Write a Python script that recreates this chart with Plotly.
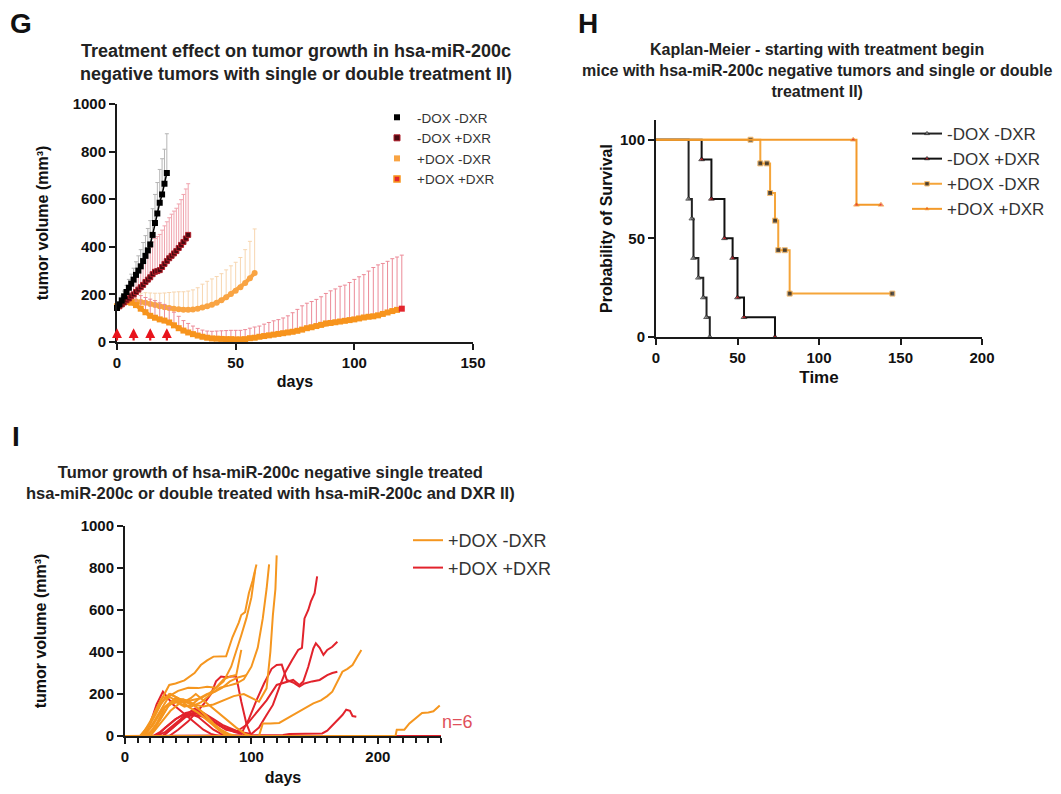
import plotly.graph_objects as go

# The page body has an 8 px margin, so the figure is made 16 px smaller and all
# reference pixel positions are shifted by that margin.
SCREEN_W, SCREEN_H = 1061, 794
OFF = 8
FW, FH = SCREEN_W - 2 * OFF, SCREEN_H - 2 * OFF
FONT = "Liberation Sans, Arial, sans-serif"

# ---------------- Panel G data (mean tumor volume, upper SEM) ----------------
g_labels = ["-DOX -DXR", "-DOX +DXR", "+DOX -DXR", "+DOX +DXR"]

g_ctrl_days = list(range(0, 22))
g_ctrl_vals = [143, 158, 175, 192, 210, 228, 245, 262, 282, 300, 318, 340, 362, 385, 410,
               450, 500, 540, 585, 620, 665, 710]
g_ctrl_err = [5, 12, 18, 22, 28, 35, 40, 48, 55, 62, 70, 78, 85, 92, 100, 110, 120, 130,
              140, 150, 145, 165]

g_dxr_days = list(range(0, 31))
g_dxr_vals = [143, 150, 158, 166, 175, 183, 192, 200, 210, 220, 230, 240, 252, 262, 272, 285,
              295, 298, 302, 315, 328, 340, 352, 362, 372, 382, 395, 408, 420, 435, 450]
g_dxr_err = [5, 10, 15, 20, 28, 35, 45, 55, 65, 75, 85, 95, 105, 115, 125, 135, 140, 145, 150,
             155, 160, 165, 170, 175, 178, 180, 185, 190, 200, 208, 215]

g_dox_days = list(range(0, 59, 2))
g_dox_vals = [150, 160, 168, 170, 170, 168, 165, 160, 155, 150, 146, 143, 140, 138, 136, 136,
              137, 140, 145, 150, 157, 165, 175, 188, 202, 215, 230, 248, 268, 290]
g_dox_err = [5, 15, 25, 30, 33, 37, 42, 46, 50, 55, 60, 65, 70, 73, 75, 78, 82, 88, 98, 105,
             108, 110, 112, 115, 118, 120, 125, 140, 155, 185]

g_both_days = list(range(0, 121, 2))
g_both_vals = [150, 160, 168, 165, 155, 140, 125, 110, 102, 95, 90, 82, 70, 58, 48, 40, 33, 27,
               22, 18, 15, 14, 13, 12, 12, 11, 11, 12, 16, 18, 22, 25, 28, 31, 34, 37, 40, 43,
               47, 52, 58, 62, 67, 72, 78, 80, 83, 86, 89, 92, 95, 99, 103, 106, 108, 112, 118,
               124, 130, 135, 140]
g_both_err = [10, 20, 30, 40, 48, 55, 62, 70, 72, 70, 68, 62, 55, 50, 42, 38, 34, 30, 28, 28,
              30, 32, 34, 36, 37, 38, 38, 40, 42, 45, 45, 50, 54, 58, 60, 64, 70, 80, 90, 100,
              105, 108, 112, 118, 126, 135, 140, 148, 150, 158, 168, 175, 180, 192, 205, 212,
              212, 215, 220, 222, 225]

g_treatment_days = [0, 7, 14, 21]
g_xticks = [0, 50, 100, 150]
g_yticks = [0, 200, 400, 600, 800, 1000]

# ---------------- Panel H data (Kaplan-Meier) ----------------
h_ctrl_t = [0, 20, 22, 23, 26, 29, 31, 33]
h_ctrl_s = [100, 70, 60, 40, 30, 20, 10, 0]
h_dxr_t = [0, 28, 34, 42, 47, 50, 54, 73]
h_dxr_s = [100, 90, 70, 50, 40, 20, 10, 0]
h_dox_t = [0, 58, 64, 68, 70, 73, 75, 79, 82, 145]
h_dox_s = [100, 100, 88, 88, 73, 59, 44, 44, 22, 22]
h_both_t = [0, 121, 123, 138]
h_both_s = [100, 100, 67, 67]
h_xticks = [0, 50, 100, 150, 200]
h_yticks = [0, 50, 100]

# ---------------- Panel I data (individual tumors) ----------------
i_orange_days = [
    [0, 13, 16, 20, 25, 30, 35, 40, 47, 55, 60, 65, 70, 80, 85, 90, 92, 95, 98, 101, 104],
    [0, 14, 20, 28, 35, 42, 50, 58, 65, 72, 78, 84, 88, 92, 96, 100, 103],
    [0, 15, 22, 30, 38, 45, 52, 60, 68, 75, 82, 88, 94, 100, 105, 109, 112, 114],
    [0, 18, 25, 32, 40, 48, 55, 62, 70, 78, 86, 94, 100, 106, 112, 115, 117, 119, 120],
    [0, 12, 20, 28, 35, 42, 50, 58, 66, 74, 80, 86, 106, 109, 115, 122, 130, 138, 145, 149,
     155, 160, 164, 168, 172, 176, 180, 184, 187],
    [0, 12, 18, 24, 30, 36, 42, 48, 54, 60, 66, 72, 78, 84],
    [0, 16, 22, 28, 34, 40, 46, 52, 56, 62, 68, 74, 80, 88, 95, 100],
    [0, 20, 28, 36, 44, 52, 60, 66, 72, 78, 84, 88, 90, 92],
    [0, 14, 19, 24, 29, 34, 40, 46, 52, 58, 64, 70, 76, 82, 88],
    [0, 17, 23, 29, 35, 41, 47, 53, 59, 65, 71, 77, 83, 90, 96],
    [0, 214, 215, 221, 225, 230, 235, 240, 244, 249],
]
i_orange_vals = [
    [0, 0, 30, 70, 130, 190, 243, 250, 265, 300, 338, 360, 378, 380, 470, 540, 576, 590, 680,
     740, 817],
    [0, 0, 40, 120, 190, 215, 230, 228, 235, 230, 260, 330, 400, 480, 560, 660, 790],
    [0, 0, 50, 130, 170, 150, 140, 160, 200, 230, 240, 250, 270, 330, 420, 560, 700, 817],
    [0, 0, 60, 140, 180, 170, 150, 140, 150, 170, 190, 200, 180, 163, 227, 400, 576, 700, 860],
    [0, 0, 60, 150, 200, 180, 140, 110, 70, 30, 10, 0, 0, 60, 60, 62, 90, 116, 140, 155, 170,
     190, 211, 260, 306, 320, 338, 380, 410],
    [0, 0, 40, 100, 170, 200, 180, 160, 150, 120, 80, 40, 10, 0],
    [0, 0, 30, 80, 140, 170, 160, 180, 200, 170, 140, 110, 80, 40, 10, 0],
    [0, 0, 60, 120, 160, 170, 180, 200, 230, 270, 285, 290, 350, 410],
    [0, 0, 50, 120, 180, 190, 170, 175, 160, 130, 100, 60, 30, 10, 0],
    [0, 0, 30, 90, 150, 160, 140, 150, 180, 200, 210, 230, 260, 280, 290],
    [0, 0, 30, 30, 60, 85, 110, 112, 118, 145],
]
i_red_days = [
    [0, 250],
    [0, 30, 36, 42, 48, 54, 60, 66, 72, 78, 84, 90, 100, 106, 112, 117, 122, 127, 132, 137,
     140, 142, 145, 147, 150, 152],
    [0, 25, 32, 40, 48, 56, 64, 72, 80, 88, 96, 104, 112, 120, 126, 133, 138, 141, 145, 149,
     151, 154, 157, 160, 164, 168],
    [0, 30, 38, 46, 54, 62, 70, 78, 86, 92, 98, 104, 110, 116, 120, 124, 128, 133, 138, 142,
     148, 154, 160, 164, 168],
    [0, 125, 130, 140, 150, 156, 160, 164, 168, 172, 175, 178, 180, 183],
    [0, 15, 20, 25, 30, 34, 38, 44, 50, 56, 62, 68, 74],
    [0, 22, 28, 34, 40, 46, 52, 58, 64, 70, 76, 82],
    [0, 35, 42, 50, 56, 62, 68, 72, 76, 80, 84, 88, 92, 96, 100],
    [0, 25, 32, 40, 48, 55, 62, 70, 78, 86, 94, 100],
]
i_red_vals = [
    [0, 0],
    [0, 0, 30, 60, 90, 100, 95, 80, 60, 40, 30, 20, 10, 40, 100, 148, 230, 306, 360, 410, 420,
     560, 600, 640, 680, 760],
    [0, 0, 40, 80, 110, 120, 100, 60, 30, 20, 52, 110, 170, 243, 255, 267, 243, 259, 330, 417,
     441, 420, 386, 410, 425, 449],
    [0, 0, 40, 90, 110, 100, 70, 40, 20, 10, 80, 170, 250, 320, 338, 340, 267, 255, 235, 250,
     260, 267, 290, 300, 306],
    [0, 5, 10, 10, 10, 12, 25, 50, 70, 100, 125, 120, 95, 92],
    [0, 0, 60, 150, 211, 180, 150, 120, 90, 60, 30, 10, 0],
    [0, 0, 20, 50, 80, 100, 105, 90, 60, 30, 10, 0],
    [0, 0, 30, 70, 110, 150, 200, 260, 283, 280, 283, 283, 163, 60, 0],
    [0, 0, 20, 60, 100, 130, 110, 80, 50, 30, 10, 0],
]
i_labels = ["+DOX -DXR", "+DOX +DXR"]
i_note = "n=6"
i_xticks = [0, 100, 200]
i_yticks = [0, 200, 400, 600, 800, 1000]

# ---------------- colours ----------------
BLACK = "#000000"
DARKRED = "#4A0A10"
ORANGE_L = "#F9A443"
ORANGE = "#F7941D"
RED = "#E3262E"
ERR_GREY = "#B5B5B5"
ERR_PINK = "#F0A3AD"
ERR_BISQUE = "#F7D6B0"
ERR_PINK2 = "#EC8B98"
I_ORANGE = "#F5961F"
I_RED = "#E2232C"


def px(x):
    return (x - OFF) / FW


def py(y):
    return 1 - (y - OFF) / FH


def dom_x(a, b):
    return [px(a), px(b)]


def dom_y(top, bottom):
    return [py(bottom), py(top)]


fig = go.Figure()


def err(arr, color):
    return dict(type="data", symmetric=False, array=arr, arrayminus=[0] * len(arr),
                color=color, thickness=1, width=2)


# ---- Panel G traces ----
fig.add_trace(go.Scatter(x=g_dox_days, y=g_dox_vals, mode="lines+markers",
                         line=dict(color=ORANGE_L, width=4),
                         marker=dict(symbol="circle", size=6, color=ORANGE_L),
                         error_y=err(g_dox_err, ERR_BISQUE), showlegend=False,
                         xaxis="x", yaxis="y", cliponaxis=False))
both_colors = [ORANGE] * (len(g_both_vals) - 1) + [RED]
fig.add_trace(go.Scatter(x=g_both_days, y=g_both_vals, mode="lines+markers",
                         line=dict(color=ORANGE, width=4),
                         marker=dict(symbol="square", size=6, color=both_colors),
                         error_y=err(g_both_err, ERR_PINK2), showlegend=False,
                         xaxis="x", yaxis="y", cliponaxis=False))
fig.add_trace(go.Scatter(x=g_dxr_days, y=g_dxr_vals, mode="lines+markers",
                         line=dict(color=DARKRED, width=1.5),
                         marker=dict(symbol="square", size=5, color=DARKRED,
                                     line=dict(color="#B01E2A", width=1)),
                         error_y=err(g_dxr_err, ERR_PINK), showlegend=False,
                         xaxis="x", yaxis="y", cliponaxis=False))
fig.add_trace(go.Scatter(x=g_ctrl_days, y=g_ctrl_vals, mode="lines+markers",
                         line=dict(color=BLACK, width=1.5),
                         marker=dict(symbol="square", size=6, color=BLACK),
                         error_y=err(g_ctrl_err, ERR_GREY), showlegend=False,
                         xaxis="x", yaxis="y", cliponaxis=False))

g_leg_styles = [
    dict(color=BLACK),
    dict(color=DARKRED, line=dict(color="#B01E2A", width=1)),
    dict(color=ORANGE_L),
    dict(color=RED, line=dict(color=ORANGE, width=1.5)),
]
for lab, st in zip(g_labels, g_leg_styles):
    fig.add_trace(go.Scatter(x=[None], y=[None], mode="markers", name=lab,
                             marker=dict(symbol="square", size=6, **st),
                             legend="legend", xaxis="x", yaxis="y"))

# ---- Panel H traces ----
h_series = [
    (h_ctrl_t, h_ctrl_s, "#222222", "triangle-up", "#9A9A9A"),
    (h_dxr_t, h_dxr_s, "#111111", "triangle-up", RED),
    (h_dox_t, h_dox_s, "#F5A53A", "square", "#111111"),
    (h_both_t, h_both_s, "#F39A2A", "triangle-up", RED),
]
for lab, (t, s, lc, sym, mc) in zip(g_labels, h_series):
    sizes = [0] + [5] * (len(t) - 1)
    fig.add_trace(go.Scatter(x=t, y=s, mode="lines+markers", name=lab,
                             line=dict(color=lc, width=2, shape="hv"),
                             marker=dict(symbol=sym, size=sizes, color=mc),
                             legend="legend2", xaxis="x2", yaxis="y2", cliponaxis=False))

# ---- Panel I traces ----
for k, (d, v) in enumerate(zip(i_red_days, i_red_vals)):
    fig.add_trace(go.Scatter(x=d, y=v, mode="lines", name=i_labels[1],
                             line=dict(color=I_RED, width=2),
                             showlegend=(k == 1), legend="legend3", legendgroup="r",
                             legendrank=2, xaxis="x3", yaxis="y3", cliponaxis=False))
for k, (d, v) in enumerate(zip(i_orange_days, i_orange_vals)):
    fig.add_trace(go.Scatter(x=d, y=v, mode="lines", name=i_labels[0],
                             line=dict(color=I_ORANGE, width=2),
                             showlegend=(k == 0), legend="legend3", legendgroup="o",
                             legendrank=1, xaxis="x3", yaxis="y3", cliponaxis=False))

# ---------------- axes ----------------
tick_font = dict(family=FONT, size=15, color="#111111", weight="bold")
title_font = dict(family=FONT, size=16, color="#111111", weight="bold")
axis_common = dict(showline=True, linecolor="#1a1a1a", linewidth=2, ticks="outside",
                   ticklen=6, tickwidth=2, tickcolor="#1a1a1a", showgrid=False,
                   zeroline=False, tickfont=tick_font, automargin=False)

fig.update_layout(
    width=FW, height=FH, margin=dict(l=0, r=0, t=0, b=0, autoexpand=False),
    paper_bgcolor="white", plot_bgcolor="white",
    font=dict(family=FONT, color="#222222"),
    xaxis=dict(domain=dom_x(117, 473), range=[0, 150], tickvals=g_xticks, anchor="y",
               title=dict(text="days", font=title_font, standoff=6), **axis_common),
    yaxis=dict(domain=dom_y(104, 342), range=[0, 1000], tickvals=g_yticks, anchor="x",
               title=dict(text="tumor volume (mm³)", font=title_font, standoff=20),
               **axis_common),
    xaxis2=dict(domain=dom_x(656, 982), range=[0, 200], tickvals=h_xticks, anchor="y2",
                title=dict(text="Time", font=dict(family=FONT, size=17, color="#111111",
                                                  weight="bold"), standoff=6),
                **axis_common),
    yaxis2=dict(domain=dom_y(120, 337), range=[0, 110], tickvals=h_yticks, anchor="x2",
                title=dict(text="Probability of Survival", font=title_font, standoff=3),
                **axis_common),
    xaxis3=dict(domain=dom_x(125, 441), range=[0, 250], tickvals=i_xticks, anchor="y3",
                layer="below traces",
                minor=dict(dtick=10, tick0=0, ticks="outside", ticklen=5, tickwidth=2,
                           tickcolor="#1a1a1a"),
                title=dict(text="days", font=title_font, standoff=20), **axis_common),
    yaxis3=dict(domain=dom_y(526, 736), range=[0, 1000], tickvals=i_yticks, anchor="x3",
                layer="below traces",
                title=dict(text="tumor volume (mm³)", font=title_font, standoff=30),
                **axis_common),
    legend=dict(x=px(377), y=py(102), xanchor="left", yanchor="top",
                bgcolor="rgba(0,0,0,0)", font=dict(family=FONT, size=13.5, color="#333333"),
                itemwidth=30),
    legend2=dict(x=px(907), y=py(116), xanchor="left", yanchor="top",
                 bgcolor="rgba(0,0,0,0)", font=dict(family=FONT, size=17, color="#333333"),
                 itemwidth=30),
    legend3=dict(x=px(408), y=py(522), xanchor="left", yanchor="top",
                 bgcolor="rgba(0,0,0,0)", font=dict(family=FONT, size=18, color="#333333"),
                 itemwidth=30, tracegroupgap=1),
)

# ---------------- annotations ----------------
ann = []
for d in g_treatment_days:
    ann.append(dict(x=d, y=58, ax=d, ay=0, xref="x", yref="y", axref="x", ayref="y",
                    showarrow=True, arrowhead=2, arrowsize=0.9, arrowwidth=2.2,
                    arrowcolor="#E8141C", text=""))

ann += [
    dict(text="<b>G</b>", x=px(21), y=py(24)),
    dict(text="<b>H</b>", x=px(588), y=py(23)),
    dict(text="<b>I</b>", x=px(16), y=py(437)),
]
for a in ann[-3:]:
    a.update(font=dict(family=FONT, size=28, color="#111111"))
ann += [
    dict(text="<b>Treatment effect on tumor growth in hsa-miR-200c<br>"
              "negative tumors with single or double treatment II)</b>",
         x=px(296), y=py(63), font=dict(family=FONT, size=18, color="#222222")),
    dict(text="<b>Kaplan-Meier - starting with treatment begin<br>"
              "mice with hsa-miR-200c negative tumors and single or double<br>"
              "treatment II)</b>",
         x=px(817), y=py(71), font=dict(family=FONT, size=16, color="#222222")),
    dict(text="<b>Tumor growth of hsa-miR-200c negative single treated<br>"
              "hsa-miR-200c or double treated with hsa-miR-200c and DXR II)</b>",
         x=px(270), y=py(482), font=dict(family=FONT, size=16.5, color="#222222")),
    dict(text=i_note, x=px(457), y=py(722),
         font=dict(family=FONT, size=18, color="#E0505A")),
]
for a in ann[len(g_treatment_days):]:
    a.update(xref="paper", yref="paper", showarrow=False, xanchor="center",
             yanchor="middle")
fig.update_layout(annotations=ann)

fig.write_html("out.html")
